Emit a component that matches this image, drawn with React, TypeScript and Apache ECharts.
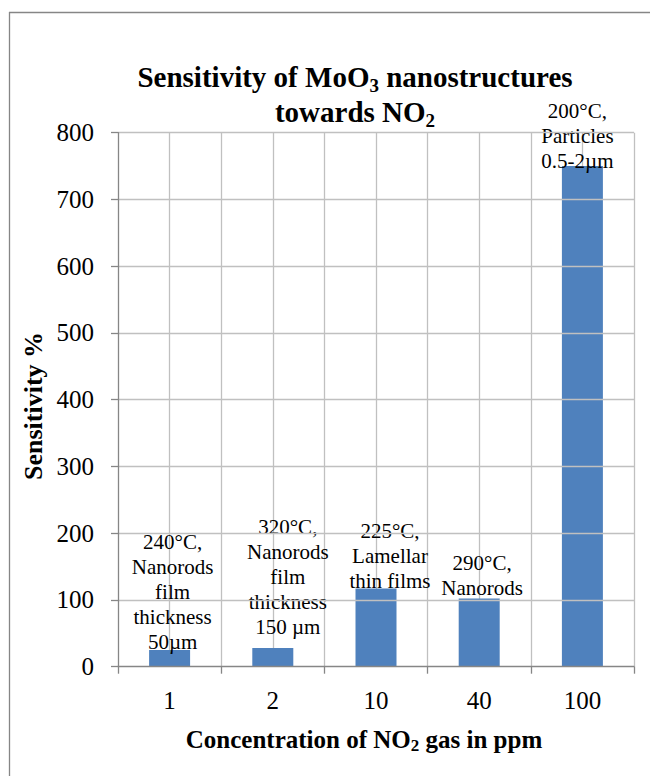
import React, { useEffect, useRef } from "react";
import * as echarts from "echarts";

// NO2 concentration (ppm) on the category axis
const categories = ["1", "2", "10", "40", "100"];
// Sensitivity % for each concentration
const sensitivity = [25, 28, 117, 102, 750];
// Operating temperature and morphology stated above each bar
const conditionLabels = [
  "240°C,\nNanorods\nfilm\nthickness\n50µm",
  "320°C,\nNanorods\nfilm\nthickness\n150 µm",
  "225°C,\nLamellar\nthin films",
  "290°C,\nNanorods",
  "200°C,\nParticles\n0.5-2µm",
];
// Value-axis ticks
const yMin = 0;
const yMax = 800;
const yStep = 100;

// Nudges for the multi-line bar labels [dx, dy]
const labelNudges: [number, number][] = [
  [3, 4.5],
  [15, -8.5],
  [14, 4.5],
  [3, 1.5],
  [-5, 7.5],
];

const SERIF = "Liberation Serif";
const AXIS_GRAY = "#868686";
const GRID_GRAY = "#c0c0c0";
const BAR_BLUE = "#4f81bd";

// wrap every line of a string in a rich-text token
const tokenize = (s: string, tok: string) =>
  s
    .split("\n")
    .map((line) => `{${tok}|${line}}`)
    .join("\n");

export default function App() {
  const ref = useRef<HTMLDivElement>(null);

  useEffect(() => {
    if (!ref.current) return;
    const chart = echarts.init(ref.current, undefined, { renderer: "svg" });

    const serif = (size: number, lh: number, bold = false) => ({
      fontFamily: SERIF,
      fontWeight: bold ? ("bold" as const) : ("normal" as const),
      fontSize: size,
      lineHeight: lh,
      color: "#000",
    });
    const sub = (size: number, lh: number) => ({
      ...serif(size, lh, true),
      verticalAlign: "bottom" as const,
    });

    chart.setOption({
      animation: false,
      backgroundColor: "#fff",
      textStyle: { fontFamily: SERIF },
      grid: { left: 118, top: 132.7, right: 16, bottom: 109.3, containLabel: false },
      xAxis: [
        {
          type: "category",
          data: categories,
          axisLine: { show: true, lineStyle: { color: AXIS_GRAY, width: 1.3 } },
          axisTick: { show: true, alignWithLabel: false, length: 7, lineStyle: { color: AXIS_GRAY, width: 1.3 } },
          axisLabel: {
            formatter: (v: string) => `{n|${v}}`,
            rich: { n: serif(25, 25) },
            margin: 21,
          },
          splitLine: { show: false },
          z: 3,
        },
        {
          // half-category vertical gridlines
          type: "value",
          min: 0,
          max: 10,
          interval: 1,
          position: "bottom",
          axisLine: { show: false },
          axisTick: { show: false },
          axisLabel: { show: false },
          splitLine: { show: true, showMinLine: false, lineStyle: { color: GRID_GRAY, width: 1.3 } },
          z: 0,
        },
      ],
      yAxis: {
        type: "value",
        min: yMin,
        max: yMax,
        interval: yStep,
        axisLine: { show: true, lineStyle: { color: AXIS_GRAY, width: 1.3 } },
        axisTick: { show: true, length: 7, lineStyle: { color: AXIS_GRAY, width: 1.3 } },
        axisLabel: {
          formatter: (v: number) => `{n|${v}}`,
          rich: { n: serif(25, 25) },
          margin: 24,
        },
        splitLine: { show: true, showMinLine: false, lineStyle: { color: GRID_GRAY, width: 1.3 } },
        z: 3,
      },
      series: [
        {
          type: "bar",
          xAxisIndex: 0,
          yAxisIndex: 0,
          barWidth: 41,
          itemStyle: { color: BAR_BLUE },
          data: sensitivity.map((v, i) => ({
            value: v,
            label: {
              show: true,
              position: "top",
              distance: 0,
              offset: labelNudges[i],
              formatter: tokenize(conditionLabels[i], "c"),
              rich: { c: { ...serif(21, 25), align: "center" } },
              align: "center",
            },
          })),
          z: 2,
        },
      ],
      graphic: [
        {
          // chart frame: left edge
          type: "line",
          silent: true,
          shape: { x1: 9.5, y1: 12, x2: 9.5, y2: 776 },
          style: { stroke: AXIS_GRAY, lineWidth: 1.3 },
          z: -10,
        },
        {
          // chart frame: top edge
          type: "line",
          silent: true,
          shape: { x1: 9, y1: 12.5, x2: 650, y2: 12.5 },
          style: { stroke: AXIS_GRAY, lineWidth: 1.3 },
          z: -10,
        },
        {
          type: "text",
          x: 355,
          y: 59.5,
          style: {
            text: "{t|Sensitivity of MoO}{s|3}{t| nanostructures}\n{t|towards NO}{s|2}",
            align: "center",
            verticalAlign: "top",
            rich: { t: serif(29, 35, true), s: sub(19, 16) },
          },
        },
        {
          type: "text",
          x: 364,
          y: 739,
          style: {
            text: "{t|Concentration of NO}{s|2}{t| gas in ppm}",
            align: "center",
            verticalAlign: "middle",
            rich: { t: serif(25, 30, true), s: sub(17, 14) },
          },
        },
        {
          type: "text",
          x: 33,
          y: 406,
          rotation: Math.PI / 2,
          style: {
            text: "Sensitivity %",
            align: "center",
            verticalAlign: "middle",
            fontFamily: SERIF,
            fontWeight: "bold",
            fontSize: 26,
            fill: "#000",
          },
        },
      ],
    });

    return () => chart.dispose();
  }, []);

  return (
    <div
      ref={ref}
      style={{ position: "fixed", left: 0, top: 0, width: 650, height: 776, background: "#fff" }}
    />
  );
}
